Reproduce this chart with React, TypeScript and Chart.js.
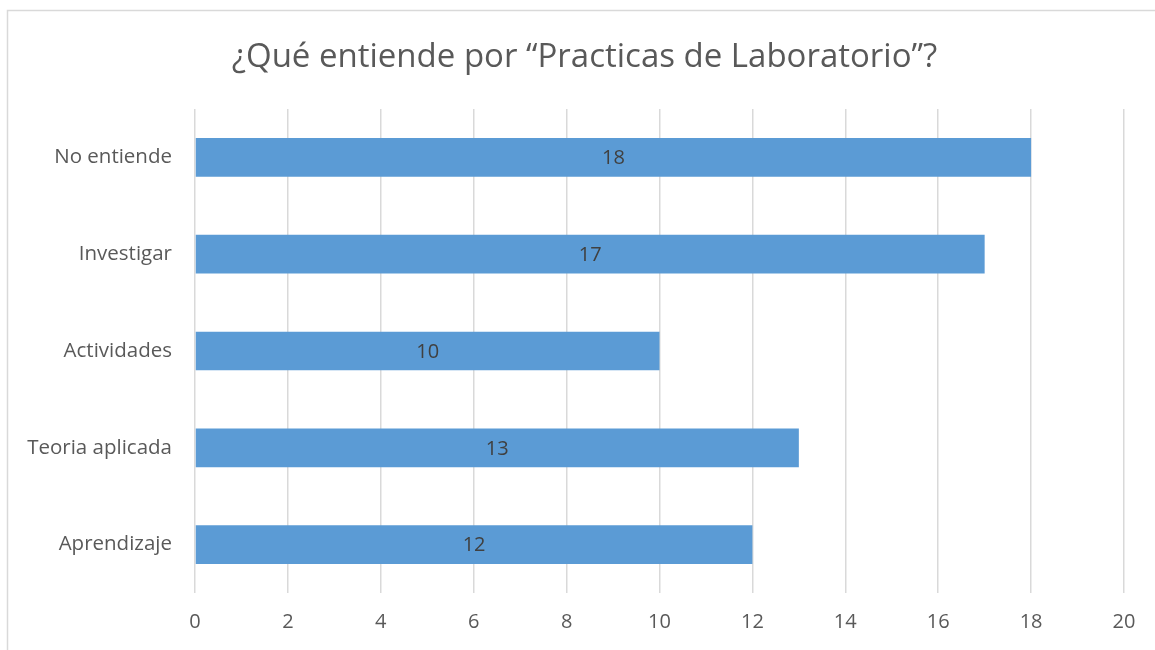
import React, { useEffect, useRef } from "react";
import { Chart, registerables } from "chart.js";

Chart.register(...registerables);

const titleText = "¿Qué entiende por “Practicas de Laboratorio”?";
const categories = ["No entiende", "Investigar", "Actividades", "Teoria aplicada", "Aprendizaje"];
const values = [18, 17, 10, 13, 12];
const xMin = 0;
const xMax = 20;
const xStep = 2;

const FONT = "'Open Sans', 'Noto Sans', sans-serif";

const framePlugin = {
  id: "frame",
  beforeDraw(chart: any) {
    const ctx = chart.ctx;
    ctx.save();
    ctx.fillStyle = "#ffffff";
    ctx.fillRect(0, 0, chart.width, chart.height);
    ctx.strokeStyle = "#d9d9d9";
    ctx.lineWidth = 1.5;
    ctx.strokeRect(7.5, 10.5, chart.width + 20, chart.height + 20);
    ctx.restore();
  },
};

const titlePlugin = {
  id: "customTitle",
  afterDraw(chart: any) {
    const ctx = chart.ctx;
    ctx.save();
    ctx.fillStyle = "#595959";
    ctx.font = `33px ${FONT}`;
    ctx.textAlign = "center";
    ctx.textBaseline = "alphabetic";
    ctx.fillText(titleText, 584.5, 67);
    ctx.restore();
  },
};

const labelPlugin = {
  id: "barLabels",
  afterDatasetsDraw(chart: any) {
    const ctx = chart.ctx;
    const meta = chart.getDatasetMeta(0);
    ctx.save();
    ctx.fillStyle = "#404040";
    ctx.font = `20px ${FONT}`;
    ctx.textAlign = "center";
    ctx.textBaseline = "middle";
    meta.data.forEach((bar: any, i: number) => {
      const cx = (bar.x + bar.base) / 2;
      ctx.fillText(String(values[i]), cx, bar.y + 1);
    });
    ctx.restore();
  },
};

export default function App() {
  const ref = useRef<HTMLCanvasElement>(null);
  useEffect(() => {
    if (!ref.current) return;
    const chart = new Chart(ref.current, {
      type: "bar",
      data: {
        labels: categories,
        datasets: [
          {
            data: values,
            backgroundColor: "#5b9bd5",
            borderWidth: 0,
            barPercentage: 0.4,
            categoryPercentage: 1,
          },
        ],
      },
      options: {
        indexAxis: "y",
        animation: false,
        responsive: false,
        maintainAspectRatio: false,
        layout: { padding: { left: 0, right: 31, top: 109, bottom: 0 } },
        plugins: {
          legend: { display: false },
          tooltip: { enabled: false },
          title: { display: false },
        },
        scales: {
          x: {
            min: xMin,
            max: xMax,
            ticks: {
              stepSize: xStep,
              color: "#595959",
              font: { family: FONT, size: 20 },
              padding: 17,
            },
            grid: { color: "#d9d9d9", lineWidth: 1.5, drawTicks: false },
            border: { display: false },
            afterFit: (s: any) => {
              s.height = 57;
            },
          },
          y: {
            ticks: {
              color: "#595959",
              font: { family: FONT, size: 20.5 },
              padding: 23,
            },
            grid: { display: false, drawTicks: false },
            border: { display: false },
            afterFit: (s: any) => {
              s.width = 195;
            },
          },
        },
      },
      plugins: [framePlugin, labelPlugin, titlePlugin],
    });
    return () => chart.destroy();
  }, []);
  return (
    <div style={{ position: "fixed", left: 0, top: 0, width: 1155, height: 650 }}>
      <canvas ref={ref} width={1155} height={650} style={{ display: "block" }} />
    </div>
  );
}
